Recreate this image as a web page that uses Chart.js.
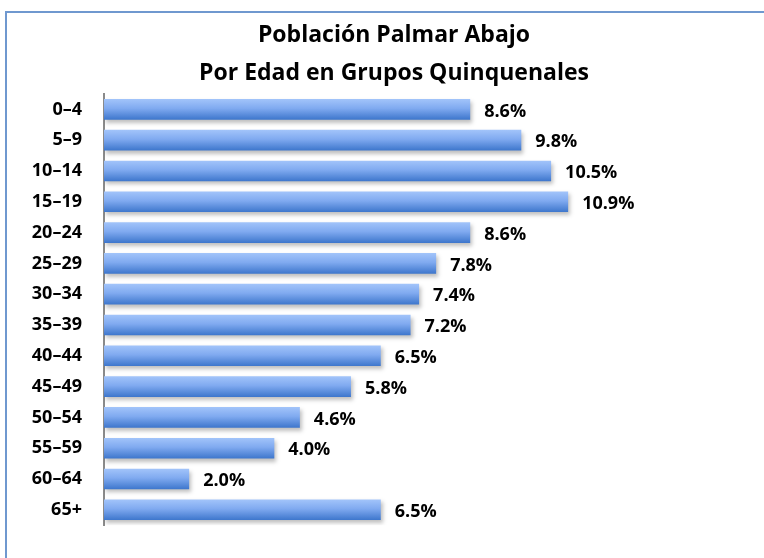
<!DOCTYPE html>
<html>
<head>
<meta charset="utf-8">
<script src="https://cdn.jsdelivr.net/npm/chart.js@4/dist/chart.umd.min.js"></script>
<style>
	html, body { margin: 0; padding: 0; background: #fff; }
	#wrap { position: relative; width: 764px; height: 558px; overflow: hidden; }
	#frame { position: absolute; left: 5px; top: 11px; width: 800px; height: 600px; border: 2px solid #6f98cf; box-sizing: border-box; }
	#c1 { position: absolute; left: 0; top: 0; }
</style>
</head>
<body>
<div id="wrap">
	<div id="frame"></div>
	<canvas id="c1" width="764" height="558"></canvas>
</div>
<script>
var ageGroups = ['0–4', '5–9', '10–14', '15–19', '20–24', '25–29', '30–34', '35–39', '40–44', '45–49', '50–54', '55–59', '60–64', '65+'];
var shares = [8.6, 9.8, 10.5, 10.9, 8.6, 7.8, 7.4, 7.2, 6.5, 5.8, 4.6, 4.0, 2.0, 6.5];
var titleLines = ['Población Palmar Abajo', 'Por Edad en Grupos Quinquenales'];

var fontFamily = '"Open Sans", Lato, sans-serif';

// gradient + shadow for the bars, set once the bars have their positions
var barLook = {
	id: 'barLook',
	beforeDatasetsDraw: function(chart) {
		var ctx = chart.ctx;
		var meta = chart.getDatasetMeta(0);
		meta.data.forEach(function(bar) {
			var half = bar.height / 2;
			var grd = ctx.createLinearGradient(0, bar.y - half, 0, bar.y + half);
			grd.addColorStop(0, '#a2c4fa');
			grd.addColorStop(0.45, '#80aaf0');
			grd.addColorStop(1, '#3d76cc');
			bar.options = Object.assign({}, bar.options, { backgroundColor: grd });
		});
		ctx.save();
		ctx.shadowColor = 'rgba(0,0,0,0.25)';
		ctx.shadowBlur = 4;
		ctx.shadowOffsetX = 2;
		ctx.shadowOffsetY = 3;
	},
	afterDatasetsDraw: function(chart) {
		chart.ctx.restore();
	}
};

var valueLabels = {
	id: 'valueLabels',
	afterDraw: function(chart) {
		var ctx = chart.ctx;
		var meta = chart.getDatasetMeta(0);
		ctx.save();
		ctx.fillStyle = '#000';
		ctx.font = 'bold 18px ' + fontFamily;
		ctx.textAlign = 'left';
		ctx.textBaseline = 'middle';
		meta.data.forEach(function(bar, i) {
			ctx.fillText(shares[i].toFixed(1) + '%', bar.x + 14, bar.y + 2);
		});
		ctx.restore();
	}
};

new Chart(document.getElementById('c1'), {
	type: 'bar',
	data: {
		labels: ageGroups,
		datasets: [{
			data: shares,
			backgroundColor: '#7ba6ec',
			borderWidth: 0,
			barPercentage: 0.67,
			categoryPercentage: 1
		}]
	},
	plugins: [barLook, valueLabels],
	options: {
		indexAxis: 'y',
		responsive: false,
		animation: false,
		layout: { padding: { top: 17, right: 0, bottom: 21, left: 24 } },
		plugins: {
			legend: { display: false },
			tooltip: { enabled: false },
			title: {
				display: true,
				text: titleLines,
				color: '#000',
				font: { family: fontFamily, size: 23, weight: 'bold', lineHeight: 1.63 },
				padding: { top: 0, bottom: 2 }
			}
		},
		scales: {
			x: {
				display: false,
				min: 0,
				max: 15.5
			},
			y: {
				afterFit: function(scale) { scale.width = 80; },
				grid: { display: false, drawTicks: false },
				border: { display: true, color: '#8a8a8a', width: 2 },
				ticks: {
					color: '#000',
					padding: 22,
					font: { family: fontFamily, size: 18, weight: 'bold' }
				}
			}
		}
	}
});
</script>
</body>
</html>
